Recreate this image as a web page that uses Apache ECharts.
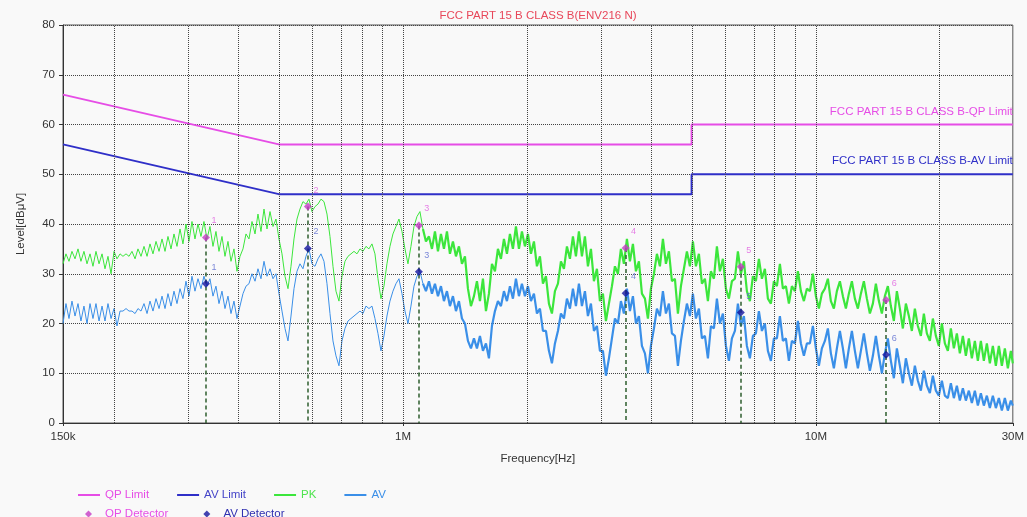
<!DOCTYPE html>
<html><head><meta charset="utf-8">
<script src="https://cdn.jsdelivr.net/npm/echarts@6/dist/echarts.min.js"></script>
<style>html,body{margin:0;padding:0;background:#f9f9f9}#c{width:1027px;height:517px}</style>
</head><body><div id="c"></div><script>
// ---- DATA ----
const freqKHz = [
150.0,152.5,155.1,157.7,160.4,163.1,165.8,168.6,171.5,174.4,
177.3,180.3,183.4,186.5,189.6,192.8,196.1,199.4,202.7,206.2,
209.6,213.2,216.8,220.4,224.2,227.9,231.8,235.7,239.7,243.7,
247.8,252.0,256.3,260.6,265.0,269.4,274.0,278.6,283.3,288.1,
292.9,297.9,302.9,308.0,313.2,318.5,323.9,329.3,334.9,340.5,
346.3,352.1,358.1,364.1,370.3,376.5,382.9,389.3,395.9,402.6,
409.4,416.3,423.3,430.5,437.8,445.1,452.6,460.3,468.1,476.0,
484.0,492.1,500.4,508.9,517.5,526.2,535.1,544.1,553.3,562.6,
572.1,581.7,591.5,601.5,611.7,622.0,632.5,643.2,654.1,665.1,
676.3,687.7,699.3,711.1,723.1,735.3,747.7,760.4,773.2,786.2,
799.5,812.9,826.6,840.6,854.8,869.2,883.9,898.8,913.9,929.4,
945.0,961.0,977.2,993.7,1010.5,1027.5,1044.8,1062.5,1080.4,1098.6,
1117.2,1136.0,1155.2,1174.7,1194.5,1214.7,1235.2,1256.0,1277.2,1298.7,
1320.6,1343.0,1365.6,1388.7,1412.1,1435.9,1460.1,1484.8,1509.8,1535.3,
1561.2,1587.6,1614.3,1641.6,1669.3,1697.4,1726.1,1755.2,1784.8,1814.9,
1845.5,1876.7,1908.3,1940.5,1973.3,2006.6,2040.4,2074.9,2109.9,2145.5,
2181.7,2218.5,2255.9,2294.0,2332.7,2372.1,2412.1,2452.8,2494.2,2536.3,
2579.1,2622.6,2666.8,2711.8,2757.6,2804.1,2851.4,2899.5,2948.5,2998.2,
3048.8,3100.2,3152.5,3205.7,3259.8,3314.8,3370.8,3427.6,3485.5,3544.3,
3604.1,3664.9,3726.7,3789.6,3853.6,3918.6,3984.7,4052.0,4120.3,4189.8,
4260.5,4332.4,4405.5,4479.8,4555.4,4632.3,4710.4,4789.9,4870.7,4952.9,
5036.4,5121.4,5207.8,5295.7,5385.0,5475.9,5568.3,5662.2,5757.8,5854.9,
5953.7,6054.2,6156.3,6260.2,6365.8,6473.2,6582.4,6693.5,6806.4,6921.3,
7038.0,7156.8,7277.5,7400.3,7525.2,7652.2,7781.3,7912.6,8046.1,8181.8,
8319.9,8460.2,8603.0,8748.1,8895.7,9045.8,9198.4,9353.6,9511.5,9672.0,
9835,10001,10170,10341,10516,10693,10874,11057,11244,11434,
11627,11823,12022,12225,12431,12641,12854,13071,13292,13516,
13744,13976,14212,14452,14695,14943,15195,15452,15712,15977,
16247,16521,16800,17083,17372,17665,17963,18266,18574,18887,
19206,19530,19860,20195,20536,20882,21234,21593,21957,22327,
22704,23087,23477,23873,24276,24685,25102,25525,25956,26394,
26839,27292,27753,28221,28697,29181,29674,30000
];
const pkLevel = [
32.0,34.0,32.5,34.5,33.0,35.0,32.5,34.5,32.0,34.0,
31.5,34.5,32.0,34.0,31.0,33.5,30.0,34.5,33.0,34.0,
33.5,34.0,33.5,34.5,33.0,35.0,33.5,35.5,33.5,36.0,
34.0,36.5,34.5,37.0,34.5,37.5,35.0,38.0,35.5,39.0,
36.0,40.0,36.5,40.5,37.0,40.0,37.5,40.5,37.0,39.5,
35.5,38.5,34.5,37.5,33.5,36.5,32.5,35.0,30.5,33.5,
35.0,38.0,37.0,40.5,38.0,42.0,38.5,43.0,39.0,42.5,
39.5,41.0,37.0,34.0,29.5,27.0,31.5,37.0,41.0,43.0,
44.5,44.0,45.0,42.5,43.5,44.0,45.0,44.5,42.0,37.5,
31.5,26.5,24.5,29.5,32.5,33.5,34.0,34.5,34.0,35.0,
34.5,35.5,35.0,36.0,34.0,29.0,25.0,27.5,32.0,35.5,
38.0,39.5,41.0,38.5,35.0,32.0,35.5,39.5,41.5,42.5,
39.0,36.5,37.5,35.0,38.5,34.5,38.0,35.0,38.5,34.0,
36.5,33.5,35.5,32.0,33.5,27.0,23.5,25.5,28.5,24.5,
29.0,22.5,26.0,32.0,30.5,35.0,33.0,37.0,34.0,38.0,
35.0,39.5,35.0,38.5,35.5,38.0,34.0,36.5,31.5,33.5,
28.0,29.5,24.0,22.0,26.5,28.0,32.5,31.0,35.5,33.0,
37.5,33.5,38.5,33.5,37.5,31.5,35.0,28.5,31.0,24.5,
26.0,20.5,24.0,27.5,31.5,30.0,35.0,32.0,37.0,32.5,
36.0,30.5,32.5,26.0,25.0,21.0,27.0,30.0,34.0,31.5,
37.0,32.0,34.5,28.5,29.0,22.0,27.5,31.0,34.5,31.5,
36.5,31.5,34.0,28.0,29.0,24.5,30.5,29.0,35.5,30.5,
33.0,27.0,25.0,28.5,29.0,34.5,30.0,32.5,26.5,24.5,
29.5,28.5,33.0,29.0,31.0,25.0,24.0,28.5,27.5,32.0,
27.0,27.5,24.0,27.5,26.5,30.5,26.5,24.5,27.0,26.5,
30.0,25.5,23.0,26.0,27.0,29.0,24.5,23.0,26.5,28.5,
25.5,23.0,26.0,28.5,25.0,23.0,26.0,28.5,25.0,22.0,
24.0,28.0,24.5,22.0,25.5,27.5,23.5,20.5,26.5,23.0,
19.0,24.0,21.5,18.5,23.0,19.5,17.5,22.0,18.0,16.5,
21.0,17.5,15.5,20.0,16.0,14.5,19.0,15.0,18.0,14.0,
17.5,13.5,17.0,13.0,16.5,12.5,16.5,12.5,16.0,12.0,
15.5,11.5,15.5,11.5,15.0,11.0,14.5,12.0
];
const avLevel = [
20.0,24.0,21.0,24.5,21.5,24.0,20.5,23.5,20.0,24.0,
21.0,24.0,20.5,23.5,20.5,24.0,21.0,23.0,19.5,22.5,
22.5,23.0,22.5,22.5,22.0,23.0,22.5,24.0,22.0,24.5,
22.5,25.0,23.0,25.5,23.0,26.0,23.5,26.5,24.0,27.0,
25.0,28.5,25.5,29.5,26.5,29.0,27.0,29.5,27.5,29.0,
25.5,27.5,24.0,26.5,23.0,25.5,22.0,24.5,21.0,23.5,
26.0,27.5,28.0,30.0,28.5,31.0,29.0,32.5,29.5,31.0,
29.0,30.0,26.0,22.5,19.0,16.5,21.5,27.0,30.5,32.0,
31.0,33.5,35.0,32.0,31.5,33.0,34.0,32.5,28.0,22.0,
16.5,13.5,11.5,16.5,19.0,20.5,21.0,21.5,22.0,22.5,
22.0,23.5,23.0,23.5,21.0,18.0,14.5,17.5,21.5,24.5,
26.5,28.0,29.0,26.0,22.5,20.0,23.5,27.5,29.5,30.5,
28.0,26.5,28.5,26.0,28.0,25.5,27.5,24.5,26.5,23.5,
25.5,22.5,24.5,21.0,20.0,16.5,15.0,17.0,15.0,17.5,
14.5,16.0,13.0,19.5,22.5,24.5,23.5,26.5,24.5,27.5,
25.0,29.0,25.5,28.0,25.5,27.5,24.5,26.0,22.0,23.0,
18.5,18.5,14.5,12.0,16.0,18.5,22.0,21.0,25.0,23.0,
27.0,23.5,28.0,23.5,26.5,21.5,24.0,18.5,19.5,14.5,
14.5,9.5,13.0,17.0,21.0,20.0,24.5,22.0,27.0,22.5,
25.5,20.0,21.5,15.5,14.0,10.0,15.5,19.0,23.0,21.5,
26.5,22.0,24.0,18.0,17.5,11.5,16.5,20.5,24.0,21.5,
26.0,21.0,23.0,17.0,17.5,13.0,19.5,19.0,25.0,20.0,
22.0,15.5,12.5,17.0,18.5,24.0,19.5,21.5,15.5,13.0,
17.5,18.0,22.5,18.5,20.0,14.5,12.5,17.0,17.0,21.5,
16.5,17.0,12.5,16.5,16.0,20.5,16.0,13.5,16.0,16.0,
19.5,15.0,11.5,15.0,16.5,19.0,14.0,11.0,15.0,18.5,
15.0,11.0,15.0,18.5,14.5,11.0,14.5,18.0,14.0,10.5,
13.5,17.5,13.5,10.0,14.0,17.0,12.5,9.0,15.0,11.5,
8.0,13.0,10.0,7.5,11.5,8.5,6.5,10.5,7.5,6.0,
9.5,6.5,5.5,8.5,5.5,5.0,8.0,5.0,7.5,4.5,
7.0,4.5,6.5,4.0,6.5,3.5,6.0,3.5,5.5,3.0,
5.5,3.0,5.0,2.5,5.0,2.5,4.5,3.5
];
const limitFreqKHz = [150, 500, 5000, 5000, 30000];
const qpLimit = [66, 56, 56, 60, 60];
const avLimit = [56, 46, 46, 50, 50];
const detFreqKHz = [333, 588, 1092, 3460, 6580, 14800];
const qpDetector = [37.3, 43.5, 39.7, 35.2, 31.4, 24.7];
const avDetector = [28.0, 35.1, 30.4, 26.1, 22.2, 13.7];
const gridFreqKHz = [200,300,400,500,600,700,800,900,1000,2000,3000,4000,5000,6000,7000,8000,9000,10000,20000];
const tickFreqKHz = [150, 1000, 10000, 30000];
const tickLabels = ['150k', '1M', '10M', '30M'];
const denseFromKHz = 1117; // above this the sweep looks like a dense band

// ---- BUILD ----
const lg = f => Math.log10(f * 1000);
const xMin = lg(150), xMax = lg(30000);
const FONT = '"Liberation Sans", Arial, sans-serif';
const C = {qp:'#e64de6', av:'#2f2fc8', pk:'#3ce63c', avt:'#3a8fe8', qpd:'#c63cc6', avd:'#14149e'};
const pair = (fs, ys) => fs.map((f, i) => [lg(f), ys[i]]);
const split = freqKHz.findIndex(f => f >= denseFromKHz);
const pkAll = pair(freqKHz, pkLevel), avAll = pair(freqKHz, avLevel);

const chart = echarts.init(document.getElementById('c'), null, {renderer:'canvas'});
chart.setOption({
  backgroundColor:'#f9f9f9',
  animation:false,
  textStyle:{fontFamily:FONT},
  title:{text:'FCC PART 15 B CLASS B(ENV216 N)', left:533, top:5, textAlign:'center',
    textStyle:{color:'#e8475a', fontSize:11.5, fontWeight:'normal', fontFamily:FONT}},
  grid:{left:63, right:14, top:25, bottom:94, show:true, borderColor:'#555', borderWidth:1, backgroundColor:'transparent'},
  legend:[
    {left:73, top:484, itemWidth:22, itemHeight:2, itemGap:28, icon:'rect', textStyle:{fontSize:11.5, fontFamily:FONT},
      data:[{name:'QP Limit', textStyle:{color:C.qp}}, {name:'AV Limit', textStyle:{color:'#4545c8'}},
            {name:'PK', textStyle:{color:'#4ee44e'}}, {name:'AV', textStyle:{color:C.avt}}]},
    {left:80, top:503, itemWidth:7, itemHeight:7, itemGap:35, icon:'diamond', textStyle:{fontSize:11.5, fontFamily:FONT},
      formatter:name => '\u2002\u2009' + name,
      data:[{name:'QP Detector', textStyle:{color:C.qp}}, {name:'AV Detector', textStyle:{color:'#3030b0'}}]}
  ],
  xAxis:{type:'value', min:xMin, max:xMax, name:'Frequency[Hz]', nameLocation:'middle', nameGap:30,
    nameTextStyle:{color:'#333', fontSize:11.5, fontFamily:FONT},
    axisLine:{lineStyle:{color:'#333'}},
    axisTick:{show:true, customValues:tickFreqKHz.map(lg), length:3, lineStyle:{color:'#333'}},
    axisLabel:{customValues:tickFreqKHz.map(lg), color:'#333', fontSize:11.5, margin:8, fontFamily:FONT,
      formatter:v => { const i = tickFreqKHz.findIndex(f => Math.abs(lg(f) - v) < 1e-6); return i >= 0 ? tickLabels[i] : ''; }},
    splitLine:{show:false}},
  yAxis:{type:'value', min:0, max:80, interval:10, name:'Level[dBμV]', nameLocation:'middle', nameGap:36,
    nameTextStyle:{color:'#333', fontSize:11.5, fontFamily:FONT},
    axisLine:{show:true, lineStyle:{color:'#333'}},
    axisTick:{show:true, length:4, lineStyle:{color:'#333'}},
    axisLabel:{color:'#333', fontSize:11.5, margin:8, fontFamily:FONT},
    splitLine:{show:true, lineStyle:{color:'#444', type:'dotted', width:1}}},
  series:[
    {name:'grid', type:'line', data:[], silent:true, z:1,
      markLine:{silent:true, symbol:['none','none'], label:{show:false}, animation:false,
        lineStyle:{color:'#444', type:'dotted', width:1},
        data:gridFreqKHz.map(f => ({xAxis:lg(f)}))}},
    {name:'PK', type:'line', data:pkAll.slice(0, split + 1), symbol:'none', z:2,
      lineStyle:{width:1, color:C.pk}, itemStyle:{color:C.pk}},
    {name:'PK', type:'line', data:pkAll.slice(split), symbol:'none', z:2,
      lineStyle:{width:2.2, color:C.pk}, itemStyle:{color:C.pk}},
    {name:'AV', type:'line', data:avAll.slice(0, split + 1), symbol:'none', z:2,
      lineStyle:{width:1, color:C.avt}, itemStyle:{color:C.avt}},
    {name:'AV', type:'line', data:avAll.slice(split), symbol:'none', z:2,
      lineStyle:{width:2.2, color:C.avt}, itemStyle:{color:C.avt}},
    {name:'QP Limit', type:'line', data:pair(limitFreqKHz, qpLimit), symbol:'none', z:3,
      lineStyle:{width:2, color:C.qp}, itemStyle:{color:C.qp},
      markPoint:{symbol:'circle', symbolSize:0, silent:true,
        data:[{coord:[xMax, qpLimit[qpLimit.length-1]]}],
        label:{show:true, position:'left', distance:0, offset:[0,-13], formatter:'FCC PART 15 B CLASS B-QP Limit',
          color:C.qp, fontSize:11.5, fontFamily:FONT}}},
    {name:'AV Limit', type:'line', data:pair(limitFreqKHz, avLimit), symbol:'none', z:3,
      lineStyle:{width:2, color:C.av}, itemStyle:{color:C.av},
      markPoint:{symbol:'circle', symbolSize:0, silent:true,
        data:[{coord:[xMax, avLimit[avLimit.length-1]]}],
        label:{show:true, position:'left', distance:0, offset:[0,-13], formatter:'FCC PART 15 B CLASS B-AV Limit',
          color:C.av, fontSize:11.5, fontFamily:FONT}}},
    {name:'QP Detector', type:'scatter', data:pair(detFreqKHz, qpDetector), symbol:'diamond', symbolSize:8, z:6,
      itemStyle:{color:C.qpd},
      label:{show:true, position:'top', distance:5, offset:[8,-3], formatter:p => p.dataIndex + 1, color:'#e060e0', fontSize:9},
      markLine:{silent:true, symbol:['none','none'], label:{show:false}, z:4,
        lineStyle:{color:'#2e5e2e', type:[4,3], width:1.5},
        data:detFreqKHz.map((f, i) => [{coord:[lg(f), qpDetector[i]]}, {coord:[lg(f), 0]}])}},
    {name:'AV Detector', type:'scatter', data:pair(detFreqKHz, avDetector), symbol:'diamond', symbolSize:8, z:6,
      itemStyle:{color:C.avd},
      label:{show:true, position:'top', distance:5, offset:[8,-3], formatter:p => p.dataIndex + 1, color:'#5a6ad0', fontSize:9}}
  ]
});
</script></body></html>
